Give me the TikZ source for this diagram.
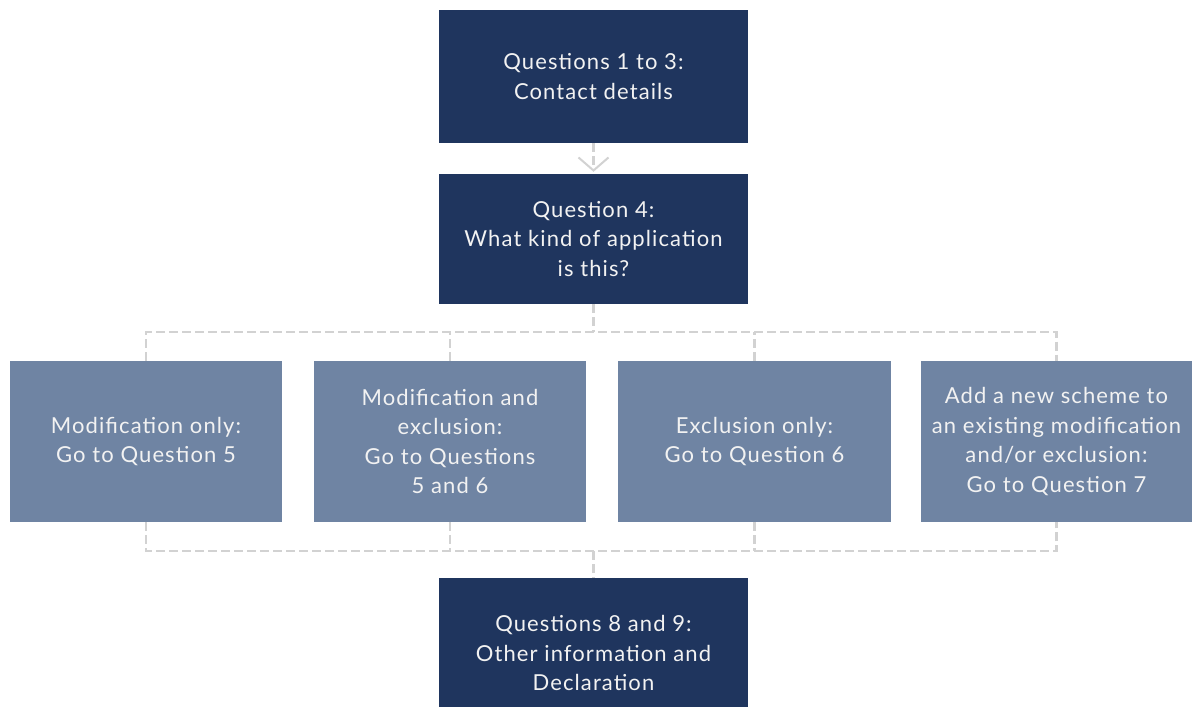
\documentclass[tikz,border=0pt]{standalone}
\usepackage{fontspec}
\setmainfont{Lato}[LetterSpace=5]
\usetikzlibrary{arrows.meta}
\definecolor{navy}{HTML}{1F355E}
\definecolor{slate}{HTML}{6F84A3}
\definecolor{dashgray}{HTML}{D2D2D2}
\definecolor{txt}{HTML}{F2F2F2}
\tikzset{
  darkbox/.style={fill=navy, draw=none, minimum width=309pt, text=txt, align=center, font=\fontsize{22}{29.5}\selectfont, inner sep=0pt},
  lightbox/.style={fill=slate, draw=none, minimum width=272pt, minimum height=161pt, text=txt, align=center, font=\fontsize{22}{29.5}\selectfont, inner sep=0pt},
  conn/.style={draw=dashgray, line width=2.6pt, dash pattern=on 9pt off 4pt},
}
\begin{document}
\begin{tikzpicture}[x=1pt,y=-1pt]
\useasboundingbox[fill=white] (0,0) rectangle (1192,707);
\node[darkbox, minimum height=133pt] (q1) at (593.5,76.5) {Questions 1 to 3:\\Contact details};
\node[darkbox, minimum height=130pt] (q4) at (593.5,239) {Question 4:\\What kind of application\\is this?};
\node[lightbox] (b1) at (146,441.5) {Modification only:\\Go to Question 5};
\node[lightbox] (b2) at (450,441.5) {Modification and\\exclusion:\\Go to Questions\\5 and 6};
\node[lightbox, minimum width=273pt] (b3) at (754.5,441.5) {Exclusion only:\\Go to Question 6};
\node[lightbox, minimum width=271pt] (b4) at (1056.5,441.5) {Add a new scheme to\\an existing modification\\and/or exclusion:\\Go to Question 7};
\node[darkbox, minimum height=150pt] (q8) at (593.5,653) {Questions 8 and 9:\\Other information and\\Declaration};
\coordinate (tb) at (593.5,332);
\coordinate (bb) at (593.5,551);
\draw[conn, -{Straight Barb[length=13pt,width=30pt,line width=2pt]}, shorten >=2pt] (q1.south) -- (q4.north);
\draw[conn] (q4.south) -- (tb);
\draw[conn] (b1.north) |- (b4.north |- tb) -- (b4.north);
\draw[conn] (b2.north) -- (b2.north |- tb);
\draw[conn] (b3.north) -- (b3.north |- tb);
\draw[conn] (b1.south) |- (b4.south |- bb) -- (b4.south);
\draw[conn] (b2.south) -- (b2.south |- bb);
\draw[conn] (b3.south) -- (b3.south |- bb);
\draw[conn] (bb) -- (q8.north);
\end{tikzpicture}
\end{document}
